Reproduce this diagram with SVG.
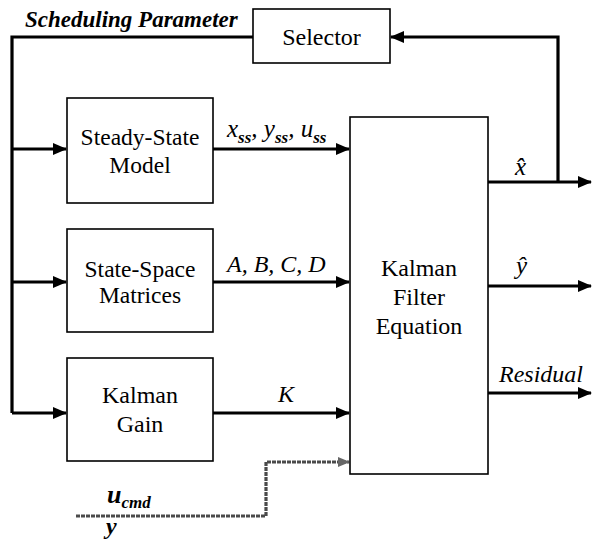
<svg xmlns="http://www.w3.org/2000/svg" width="592" height="542" viewBox="0 0 592 542">
<defs>
<marker id="ah" markerUnits="userSpaceOnUse" markerWidth="14" markerHeight="12" refX="13" refY="6" orient="auto">
<path d="M0,0 L14,6 L0,12 Z" fill="#000"/>
</marker>
<marker id="gah" markerUnits="userSpaceOnUse" markerWidth="12" markerHeight="10" refX="11" refY="5" orient="auto">
<path d="M0,0 L12,5 L0,10 Z" fill="#666"/>
</marker>
</defs>
<rect x="0" y="0" width="592" height="542" fill="#fff"/>

<g id="connectors" fill="none" stroke="#000" stroke-width="3.2">
<path d="M253,37 H12 V413"/>
<path d="M12,149 H66" marker-end="url(#ah)"/>
<path d="M12,282 H66" marker-end="url(#ah)"/>
<path d="M12,413 H66" marker-end="url(#ah)"/>
<path d="M213,149 H349" marker-end="url(#ah)"/>
<path d="M213,282 H349" marker-end="url(#ah)"/>
<path d="M213,413 H349" marker-end="url(#ah)"/>
<path d="M76,516 H266 V462 H349" stroke="#4a4a4a" stroke-dasharray="4 1" marker-end="url(#gah)"/>
<path d="M488,182 H591" marker-end="url(#ah)"/>
<path d="M558,182 V37 H391" marker-end="url(#ah)"/>
<path d="M488,286 H591" marker-end="url(#ah)"/>
<path d="M488,393 H591" marker-end="url(#ah)"/>
</g>

<g id="selector">
<rect x="253" y="9" width="137" height="54" fill="#fff" stroke="#000" stroke-width="1.6"/>
<text font-family="Liberation Serif" font-size="24" text-anchor="middle" x="321.5" y="45">Selector</text>
</g>

<g id="steady-state-model">
<rect x="67" y="98" width="146" height="105" fill="#fff" stroke="#000" stroke-width="1.6"/>
<text font-family="Liberation Serif" font-size="23.5" text-anchor="middle" x="140" y="145">Steady-State</text>
<text font-family="Liberation Serif" font-size="23.5" text-anchor="middle" x="140" y="173">Model</text>
</g>

<g id="state-space-matrices">
<rect x="67" y="229" width="146" height="103" fill="#fff" stroke="#000" stroke-width="1.6"/>
<text font-family="Liberation Serif" font-size="23.5" text-anchor="middle" x="140" y="277">State-Space</text>
<text font-family="Liberation Serif" font-size="23.5" text-anchor="middle" x="140" y="303">Matrices</text>
</g>

<g id="kalman-gain">
<rect x="67" y="358" width="146" height="103" fill="#fff" stroke="#000" stroke-width="1.6"/>
<text font-family="Liberation Serif" font-size="24" text-anchor="middle" x="140" y="403">Kalman</text>
<text font-family="Liberation Serif" font-size="24" text-anchor="middle" x="140" y="432">Gain</text>
</g>

<g id="kalman-filter-equation">
<rect x="350" y="117" width="138" height="357" fill="#fff" stroke="#000" stroke-width="1.6"/>
<text font-family="Liberation Serif" font-size="24" text-anchor="middle" x="419" y="276">Kalman</text>
<text font-family="Liberation Serif" font-size="24" text-anchor="middle" x="419" y="305">Filter</text>
<text font-family="Liberation Serif" font-size="24" text-anchor="middle" x="419" y="334">Equation</text>
</g>

<g id="labels">
<text font-family="Liberation Serif" font-style="italic" font-weight="bold" font-size="23" x="25" y="27">Scheduling Parameter</text>
<text font-family="Liberation Serif" font-style="italic" font-size="25" x="227" y="137">x<tspan font-size="17" font-weight="bold" dy="6">ss</tspan><tspan dy="-6">, y</tspan><tspan font-size="17" font-weight="bold" dy="6">ss</tspan><tspan dy="-6">, u</tspan><tspan font-size="17" font-weight="bold" dy="6">ss</tspan></text>
<text font-family="Liberation Serif" font-style="italic" font-size="24" x="227" y="272">A, B, C, D</text>
<text font-family="Liberation Serif" font-style="italic" font-size="24" x="278" y="402">K</text>
<text font-family="Liberation Serif" font-style="italic" font-size="25" x="515" y="175">x&#x302;</text>
<text font-family="Liberation Serif" font-style="italic" font-size="25" x="516" y="274">y&#x302;</text>
<text font-family="Liberation Serif" font-style="italic" font-size="24" x="499" y="382">Residual</text>
<text font-family="Liberation Serif" font-style="italic" font-weight="bold" font-size="26" x="107" y="503">u<tspan font-size="17" dy="5">cmd</tspan></text>
<text font-family="Liberation Serif" font-style="italic" font-weight="bold" font-size="24" x="106" y="534">y</text>
</g>
</svg>
